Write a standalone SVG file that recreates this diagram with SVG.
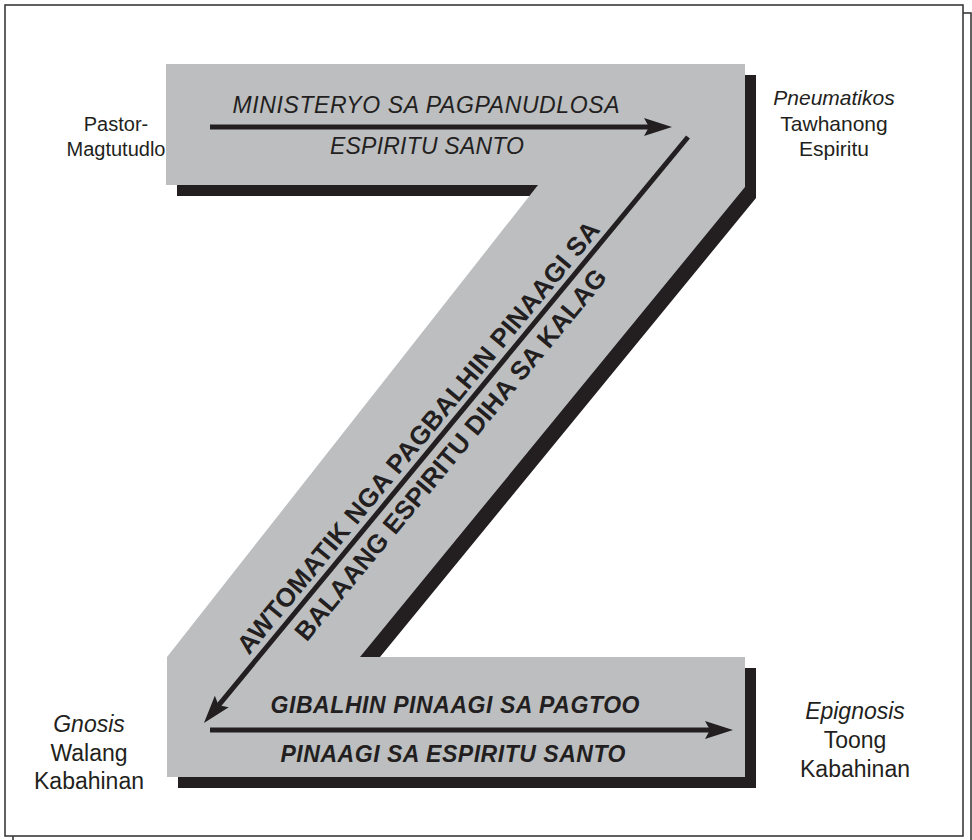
<svg xmlns="http://www.w3.org/2000/svg" width="972" height="840" viewBox="0 0 972 840">
<defs>
<style>
.frame{fill:none;stroke:#3a3a3a;stroke-width:1.6}
.frameMain{fill:#fff;stroke:#3a3a3a;stroke-width:1.6}
.shape{fill:#BCBEC0}
.shadow{fill:#231F20}
.arrow{stroke:#231F20;stroke-width:5;fill:none;marker-end:url(#ah)}
.lab{font-family:"Liberation Sans",Arial,Helvetica,sans-serif;fill:#231F20;text-anchor:middle}
.it{font-style:italic}
.bar{font-family:"Liberation Sans",Arial,Helvetica,sans-serif;fill:#231F20;text-anchor:middle;font-style:italic;font-size:23px}
.bold{font-weight:bold}
.diag{font-family:"Liberation Sans",Arial,Helvetica,sans-serif;fill:#231F20;text-anchor:middle;font-weight:bold;font-size:26px}
</style>
<marker id="ah" markerUnits="userSpaceOnUse" markerWidth="32" markerHeight="22" refX="8" refY="10" orient="auto" viewBox="0 0 32 22">
<path d="M0,1 L28,10 L0,19 L5,10 Z" fill="#231F20"/>
</marker>
</defs>
<g id="frame">
<rect class="frame" x="13" y="13" width="958" height="831"/>
<rect class="frameMain" x="5" y="5" width="958" height="831"/>
</g>
<g id="z-shape">
<path class="shadow" transform="translate(11,11)" d="M166,64 H745 V187 L360,657 H745 V777 H167 V657 L538,185 H166 Z"/>
<path class="shape" d="M166,64 H745 V187 L360,657 H745 V777 H167 V657 L538,185 H166 Z"/>
</g>
<g id="connectors">
<line class="arrow" x1="210" y1="127" x2="652" y2="127"/>
<line class="arrow" x1="688" y1="137" x2="216.7" y2="707.6"/>
<line class="arrow" x1="210" y1="730" x2="713" y2="730"/>
</g>
<g id="top-bar-text">
<text class="bar" x="426" y="113" textLength="387" lengthAdjust="spacing">MINISTERYO SA PAGPANUDLOSA</text>
<text class="bar" x="427" y="154" textLength="194" lengthAdjust="spacing">ESPIRITU SANTO</text>
</g>
<g id="diagonal-text">
<text class="diag" transform="translate(425,443) rotate(-50.4)" textLength="552" lengthAdjust="spacing">AWTOMATIK NGA PAGBALHIN PINAAGI SA</text>
<text class="diag" transform="translate(457.5,460.2) rotate(-50.4)" textLength="473" lengthAdjust="spacing">BALAANG ESPIRITU DIHA SA KALAG</text>
</g>
<g id="bottom-bar-text">
<text class="bar bold" x="455" y="713" textLength="369" lengthAdjust="spacing">GIBALHIN PINAAGI SA PAGTOO</text>
<text class="bar bold" x="453" y="762" textLength="345" lengthAdjust="spacing">PINAAGI SA ESPIRITU SANTO</text>
</g>
<g id="pastor">
<text class="lab" x="116" y="131" font-size="20">Pastor-</text>
<text class="lab" x="116" y="156" font-size="20">Magtutudlo</text>
</g>
<g id="pneumatikos">
<text class="lab it" x="834" y="105" font-size="21">Pneumatikos</text>
<text class="lab" x="834" y="131" font-size="21">Tawhanong</text>
<text class="lab" x="834" y="156" font-size="21">Espiritu</text>
</g>
<g id="gnosis">
<text class="lab it" x="89" y="732" font-size="23">Gnosis</text>
<text class="lab" x="89" y="761" font-size="23">Walang</text>
<text class="lab" x="89" y="789" font-size="23">Kabahinan</text>
</g>
<g id="epignosis">
<text class="lab it" x="855" y="719" font-size="23">Epignosis</text>
<text class="lab" x="855" y="748" font-size="23">Toong</text>
<text class="lab" x="855" y="777" font-size="23">Kabahinan</text>
</g>
</svg>
